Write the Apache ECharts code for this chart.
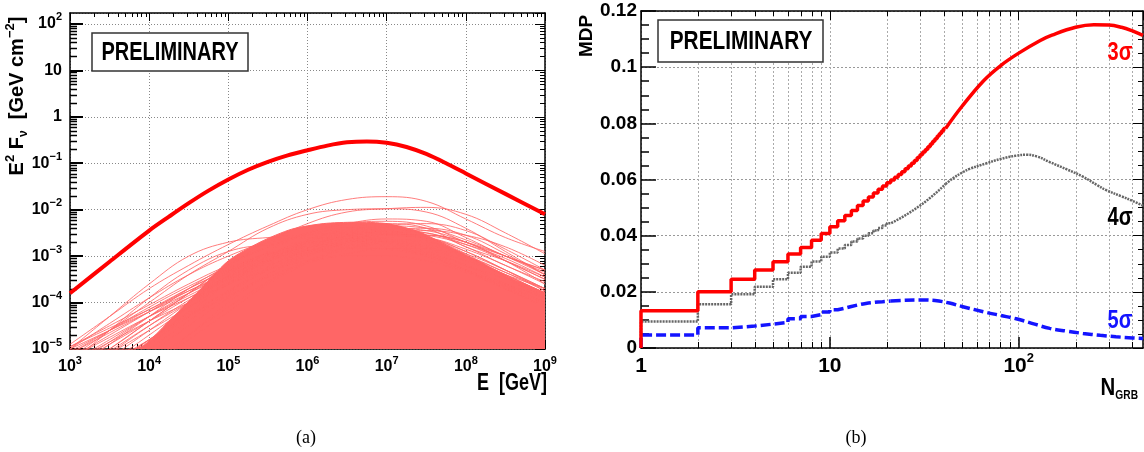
<!DOCTYPE html>
<html><head><meta charset="utf-8">
<script src="https://cdn.jsdelivr.net/npm/echarts@6/dist/echarts.min.js"></script>
<style>html,body{margin:0;padding:0;background:#fff}#c{width:1144px;height:452px}</style>
</head><body><div id="c"></div>
<script>
// ---------- Panel (a): E^2 F_nu spectra ----------
const energyGeV = [1e3, 3.16e3, 1e4, 3.16e4, 1e5, 3.16e5, 1e6, 3.16e6, 1e7, 3.16e7, 1e8, 3.16e8, 1e9];
// total (thick red) spectrum: energies and log10 flux
const totalEnergyGeV = [1e3, 3.16e3, 1e4, 1.78e4, 3.16e4, 5.62e4, 1e5, 1.78e5, 3.16e5, 5.62e5, 1e6, 1.78e6, 3.16e6, 5.62e6, 1e7, 1.78e7, 3.16e7, 5.62e7, 1e8, 3.16e8, 1e9];
const totalFluxLog = [-3.8, -3.12, -2.45, -2.15, -1.86, -1.59, -1.35, -1.14, -0.97, -0.83, -0.72, -0.62, -0.55, -0.53, -0.56, -0.65, -0.8, -1.0, -1.22, -1.66, -2.1];
// log10 of individual GRB spectra (visible curves) at energyGeV
const grbFluxLog = [
  [-4.9, -4.3, -3.7, -3.2, -2.75, -2.35, -2.0, -1.78, -1.72, -1.82, -2.2, -2.6, -2.9],
  [-5.2, -4.6, -4.0, -3.4, -2.9, -2.4, -2.1, -2.0, -1.98, -2.05, -2.4, -2.9, -3.4],
  [-5.5, -5.0, -4.4, -3.8, -3.2, -2.7, -2.3, -2.05, -1.98, -1.95, -2.1, -2.5, -2.95],
  [-5.6, -5.0, -4.4, -3.8, -3.2, -2.8, -2.5, -2.3, -2.2, -2.25, -2.6, -3.0, -3.3],
  [-5.0, -4.3, -3.6, -3.0, -2.7, -2.6, -2.55, -2.5, -2.5, -2.6, -2.9, -3.3, -3.7],
  [-5.3, -4.6, -3.9, -3.3, -2.9, -2.75, -2.7, -2.65, -2.7, -2.85, -3.1, -3.4, -3.7],
  [-5.0, -4.45, -3.9, -3.4, -3.0, -2.7, -2.6, -2.6, -2.7, -2.9, -3.2, -3.6, -4.0],
  [-4.95, -4.5, -4.05, -3.6, -3.2, -2.9, -2.7, -2.6, -2.6, -2.7, -3.0, -3.4, -3.8],
  [-5.1, -4.6, -4.1, -3.65, -3.25, -2.95, -2.8, -2.75, -2.8, -3.0, -3.3, -3.6, -3.9],
  [-5.8, -5.2, -4.6, -4.0, -3.4, -2.9, -2.5, -2.3, -2.25, -2.35, -2.7, -3.0, -3.3],
  [-6.0, -5.4, -4.8, -4.2, -3.6, -3.1, -2.7, -2.4, -2.3, -2.4, -2.8, -3.1, -3.45],
  [-6.2, -5.6, -5.0, -4.4, -3.8, -3.3, -2.9, -2.6, -2.45, -2.5, -2.8, -3.2, -3.55],
  [-5.5, -4.9, -4.3, -3.7, -3.2, -2.8, -2.55, -2.4, -2.45, -2.65, -3.0, -3.4, -3.8],
  [-5.3, -4.8, -4.3, -3.85, -3.45, -3.1, -2.85, -2.7, -2.65, -2.7, -2.95, -3.3, -3.7],
  [-5.6, -5.1, -4.6, -4.1, -3.6, -3.2, -2.9, -2.75, -2.7, -2.8, -3.05, -3.4, -3.8],
  [-6.3, -5.7, -5.1, -4.5, -3.9, -3.4, -3.0, -2.7, -2.55, -2.6, -2.9, -3.3, -3.75],
  [-5.9, -5.3, -4.7, -4.1, -3.55, -3.1, -2.75, -2.55, -2.5, -2.6, -2.95, -3.45, -3.9],
  [-5.4, -4.85, -4.3, -3.8, -3.35, -3.0, -2.8, -2.7, -2.75, -2.95, -3.3, -3.7, -4.1],
  [-6.5, -5.9, -5.3, -4.7, -4.1, -3.55, -3.1, -2.8, -2.6, -2.55, -2.7, -3.1, -3.6],
  [-6.6, -6.0, -5.4, -4.8, -4.2, -3.6, -3.15, -2.85, -2.7, -2.75, -3.0, -3.35, -3.7],
  [-5.2, -4.7, -4.2, -3.7, -3.3, -2.95, -2.7, -2.5, -2.4, -2.45, -2.7, -3.1, -3.5],
  [-5.7, -5.1, -4.5, -3.95, -3.45, -3.0, -2.65, -2.45, -2.35, -2.4, -2.65, -3.0, -3.4],
  [-6.1, -5.5, -4.9, -4.3, -3.75, -3.25, -2.85, -2.55, -2.35, -2.3, -2.45, -2.85, -3.3],
  [-5.0, -4.6, -4.2, -3.8, -3.4, -3.1, -2.9, -2.8, -2.85, -3.0, -3.3, -3.65, -4.0],
  [-5.2, -4.75, -4.3, -3.9, -3.5, -3.15, -2.95, -2.85, -2.85, -2.95, -3.2, -3.5, -3.85],
  [-4.95, -4.55, -4.15, -3.75, -3.4, -3.15, -3.0, -2.95, -3.0, -3.15, -3.45, -3.8, -4.2],
  [-5.1, -4.65, -4.2, -3.75, -3.35, -3.0, -2.75, -2.6, -2.55, -2.6, -2.85, -3.2, -3.6],
  [-5.4, -4.9, -4.4, -3.9, -3.45, -3.05, -2.75, -2.55, -2.45, -2.5, -2.75, -3.1, -3.5],
  [-6.8, -6.1, -5.4, -4.7, -4.0, -3.4, -2.95, -2.65, -2.45, -2.4, -2.55, -2.95, -3.4],
  [-5.6, -5.05, -4.5, -4.0, -3.5, -3.1, -2.8, -2.6, -2.5, -2.45, -2.55, -2.8, -3.2],
  [-6.0, -5.4, -4.8, -4.25, -3.75, -3.3, -2.95, -2.7, -2.55, -2.55, -2.7, -3.0, -3.35],
  [-5.3, -4.85, -4.4, -4.0, -3.6, -3.3, -3.1, -3.0, -3.0, -3.1, -3.35, -3.7, -4.05],
  [-5.8, -5.3, -4.8, -4.3, -3.85, -3.45, -3.15, -2.95, -2.85, -2.85, -3.0, -3.35, -3.75],
  [-5.05, -4.6, -4.15, -3.7, -3.3, -2.95, -2.7, -2.55, -2.5, -2.55, -2.75, -3.05, -3.45]
];
// upper edge of the densely filled band of many GRB spectra
const denseEnergyGeV = [1e3, 3.16e3, 7.94e3, 1.78e4, 3.98e4, 1e5, 2.51e5, 6.31e5, 1.58e6, 3.98e6, 1e7, 2.51e7, 6.31e7, 1.58e8, 3.98e8, 1e9];
const denseEnvelopeLog = [-5.05, -5.05, -4.95, -4.4, -3.8, -3.1, -2.7, -2.42, -2.3, -2.27, -2.3, -2.47, -2.8, -3.15, -3.5, -3.78];

// ---------- Panel (b): MDP vs N_GRB ----------
// histogram bin values for N = 1, 2, 3, ...
const mdp3Step = [0.0133, 0.0200, 0.0245, 0.0278, 0.0307, 0.0335, 0.0358, 0.0384, 0.0408, 0.0432,
  0.0453, 0.0472, 0.0490, 0.0507, 0.0523, 0.0538, 0.0552, 0.0565, 0.0577, 0.0588,
  0.0598, 0.0608, 0.0618, 0.0628, 0.0638, 0.0648, 0.0658, 0.0668, 0.0678, 0.0688,
  0.0698, 0.0707, 0.0717, 0.0726, 0.0736, 0.0745, 0.0755, 0.0764, 0.0773, 0.0782];
const mdp4Step = [0.0094, 0.0156, 0.0191, 0.0218, 0.0245, 0.0268, 0.0289, 0.0308, 0.0325, 0.0340,
  0.0354, 0.0367, 0.0379, 0.0390, 0.0400, 0.0409, 0.0418, 0.0427, 0.0436, 0.0444,
  0.0451, 0.0458, 0.0465, 0.0472, 0.0479, 0.0486, 0.0493, 0.0500, 0.0507, 0.0514,
  0.0521, 0.0528, 0.0535, 0.0542, 0.0549, 0.0556, 0.0563, 0.0570, 0.0577, 0.0584];
const mdp5Step = [0.0046, 0.0072, 0.0078, 0.0085, 0.0091, 0.0104, 0.0112, 0.0119, 0.0128, 0.0136,
  0.0142, 0.0148, 0.0153, 0.0157, 0.0160, 0.0162, 0.0164, 0.0165, 0.0166, 0.0167];
// smooth continuation at larger N
const nTail3 = [41, 50, 65, 80, 100, 130, 150, 200, 250, 300, 350, 400, 455];
const mdp3Tail = [0.0782, 0.0860, 0.0951, 0.1005, 0.1050, 0.1095, 0.1114, 0.1142, 0.1151, 0.1150, 0.1142, 0.1129, 0.1113];
const nTail4 = [41, 45, 50, 55, 67, 80, 97, 110, 125, 146, 180, 219, 260, 291, 350, 400, 455];
const mdp4Tail = [0.0584, 0.0605, 0.0624, 0.0638, 0.0657, 0.0673, 0.0685, 0.0688, 0.0682, 0.0662, 0.0636, 0.0610, 0.0580, 0.0562, 0.0540, 0.0524, 0.0507];
const nTail5 = [21, 25, 30, 36, 43, 50, 65, 80, 97, 120, 146, 180, 219, 270, 327, 400, 455];
const mdp5Tail = [0.0167, 0.0170, 0.0171, 0.0169, 0.0160, 0.0148, 0.0129, 0.0116, 0.0104, 0.0086, 0.0070, 0.0060, 0.0052, 0.0045, 0.0040, 0.0036, 0.0034];

// ---------- helpers ----------
const FONT = "'Liberation Sans', Arial, Helvetica, sans-serif";
const NARROW = "'Liberation Sans Narrow', 'Liberation Sans', Arial, sans-serif";
const PINK = '#ff6666';
const pw = v => Math.pow(10, v);

function richSup(fs, ss, lh, slh, fam) {
  return {
    b: { fontSize: fs, fontWeight: 'bold', fontFamily: fam, lineHeight: lh, color: '#000' },
    s: { fontSize: ss, fontWeight: 'bold', fontFamily: fam, lineHeight: slh, verticalAlign: 'top', color: '#000' }
  };
}
function pow10Label(v, plain) {
  const l = Math.log10(v), e = Math.round(l);
  if (Math.abs(l - e) > 1e-6) return '';
  if (plain && e === 0) return '{b|1}';
  if (plain && e === 1) return '{b|10}';
  return '{b|10}{s|' + (e < 0 ? '\u2212' + (-e) : e) + '}';
}
function logMinors(d0, d1, maxV) {
  const out = [];
  for (let d = d0; d <= d1; d++) for (let m = 2; m <= 9; m++) { const v = m * Math.pow(10, d); if (v < maxV) out.push(v); }
  return out;
}
function tickSeries(xi, yi, data, dim, lenA, lenB, grid) {
  return {
    type: 'custom', xAxisIndex: xi, yAxisIndex: yi, silent: true, z: 1,
    data: data,
    renderItem: function (params, api) {
      const cs = params.coordSys, ch = [];
      const p = api.coord([api.value(0), api.value(1)]);
      const st = { stroke: '#000', lineWidth: 1 };
      if (dim === 'x') {
        const x = Math.round(p[0]) + 0.5;
        if (grid) ch.push({ type: 'line', shape: { x1: x, y1: cs.y, x2: x, y2: cs.y + cs.height }, style: { stroke: '#aaa', lineWidth: 1, lineDash: [2, 2] } });
        ch.push({ type: 'line', shape: { x1: x, y1: cs.y + cs.height, x2: x, y2: cs.y + cs.height - lenA }, style: st });
        ch.push({ type: 'line', shape: { x1: x, y1: cs.y, x2: x, y2: cs.y + lenB }, style: st });
      } else {
        const y = Math.round(p[1]) + 0.5;
        ch.push({ type: 'line', shape: { x1: cs.x, y1: y, x2: cs.x + lenA, y2: y }, style: { stroke: '#000', lineWidth: 1.5 } });
        ch.push({ type: 'line', shape: { x1: cs.x + cs.width, y1: y, x2: cs.x + cs.width - lenB, y2: y }, style: st });
      }
      return { type: 'group', children: ch };
    }
  };
}

const series = [];
// dense band
series.push({
  type: 'line', xAxisIndex: 0, yAxisIndex: 0, silent: true, showSymbol: false, smooth: 0.25, z: 2,
  data: denseEnergyGeV.map((e, i) => [e, pw(denseEnvelopeLog[i])]),
  lineStyle: { width: 1, color: PINK }, areaStyle: { color: PINK, opacity: 1, origin: 'start' }
});
grbFluxLog.forEach(arr => series.push({
  type: 'line', xAxisIndex: 0, yAxisIndex: 0, silent: true, showSymbol: false, smooth: 0.4, z: 2,
  data: energyGeV.map((e, i) => [e, pw(arr[i])]),
  lineStyle: { width: 1, color: PINK, opacity: 0.85 }
}));
series.push({
  type: 'line', xAxisIndex: 0, yAxisIndex: 0, silent: true, showSymbol: false, smooth: 0.3, z: 4,
  data: totalEnergyGeV.map((e, i) => [e, pw(totalFluxLog[i])]),
  lineStyle: { width: 4, color: '#ff0000' }
});
// minor ticks panel (a)
series.push(tickSeries(0, 0, logMinors(3, 8, 1e9).map(v => [v, 1]), 'x', 5, 4, false));
series.push(tickSeries(0, 0, logMinors(-5, 1, 172).map(v => [1e5, v]), 'y', 7, 5, false));
// minor ticks + minor grid panel (b)
series.push(tickSeries(2, 2, logMinors(0, 2, 455).map(v => [v, 0.06]), 'x', 6, 5, true));

const stepData = vals => [[1, 0]].concat(vals.map((v, i) => [i + 2, v]));
function mdpSeries(stepVals, tN, tV, color, width, type) {
  series.push({ type: 'line', xAxisIndex: 2, yAxisIndex: 2, silent: true, showSymbol: false, step: 'start', z: 3,
    data: stepData(stepVals), lineStyle: { color, width, type } });
  series.push({ type: 'line', xAxisIndex: 2, yAxisIndex: 2, silent: true, showSymbol: false, smooth: 0.4, z: 3,
    data: tN.map((n, i) => [n, tV[i]]), lineStyle: { color, width, type } });
}
mdpSeries(mdp4Step, nTail4, mdp4Tail, '#666666', 2.5, [2, 1]);
mdpSeries(mdp5Step, nTail5, mdp5Tail, '#1414ff', 3.5, [10, 4]);
mdpSeries(mdp3Step, nTail3, mdp3Tail, '#ff0000', 3.5, 'solid');

const axLine = { show: true, onZero: false, lineStyle: { color: '#000', width: 1.5 } };
const dotted = { show: true, lineStyle: { color: '#888', width: 1, type: [1, 2] } };
const richL = richSup(16, 11, 24, 11, NARROW);
const richR = richSup(21, 13, 28, 13, NARROW);

const option = {
  animation: false,
  grid: [
    { left: 70, top: 13, width: 475, height: 336, containLabel: false, outerBoundsMode: 'none' },
    { left: 641, top: 11, width: 502, height: 337, containLabel: false, outerBoundsMode: 'none' }
  ],
  xAxis: [
    { gridIndex: 0, type: 'log', logBase: 10, min: 1e3, max: 1e9, position: 'bottom', axisLine: axLine,
      axisTick: { show: true, inside: true, length: 9, lineStyle: { color: '#000' } },
      axisLabel: { margin: 6, formatter: v => pow10Label(v, false), rich: richL }, splitLine: dotted },
    { gridIndex: 0, type: 'log', logBase: 10, min: 1e3, max: 1e9, position: 'top', axisLine: axLine,
      axisTick: { show: true, inside: true, length: 8, lineStyle: { color: '#000' } },
      axisLabel: { show: false }, splitLine: { show: false } },
    { gridIndex: 1, type: 'log', logBase: 10, min: 1, max: 455, position: 'bottom', axisLine: axLine,
      axisTick: { show: true, inside: true, length: 11, lineStyle: { color: '#000', width: 1.5 } },
      axisLabel: { margin: 4, formatter: v => pow10Label(v, true), rich: richR, showMaxLabel: false },
      splitLine: { show: true, lineStyle: { color: '#aaa', width: 1, type: [2, 2] } } },
    { gridIndex: 1, type: 'log', logBase: 10, min: 1, max: 455, position: 'top', axisLine: axLine,
      axisTick: { show: true, inside: true, length: 9, lineStyle: { color: '#000' } },
      axisLabel: { show: false }, splitLine: { show: false } }
  ],
  yAxis: [
    { gridIndex: 0, type: 'log', logBase: 10, min: 1e-5, max: 172, position: 'left', axisLine: axLine,
      axisTick: { show: true, inside: true, length: 13, lineStyle: { color: '#000', width: 2 } },
      axisLabel: { margin: 8, formatter: v => pow10Label(v, true), rich: richL, showMaxLabel: false }, splitLine: dotted },
    { gridIndex: 0, type: 'log', logBase: 10, min: 1e-5, max: 172, position: 'right', axisLine: axLine,
      axisTick: { show: true, inside: true, length: 10, lineStyle: { color: '#000' } },
      axisLabel: { show: false }, splitLine: { show: false } },
    { gridIndex: 1, type: 'value', min: 0, max: 0.12, interval: 0.02, position: 'left', axisLine: axLine,
      axisTick: { show: true, inside: true, length: 15, lineStyle: { color: '#000', width: 1.5 } },
      minorTick: { show: true, splitNumber: 4, length: 8, lineStyle: { color: '#000', width: 1.5 } },
      axisLabel: { margin: 4, fontSize: 19, fontWeight: 'bold', fontFamily: NARROW, color: '#000',
        formatter: v => v === 0 ? '0' : String(+v.toFixed(2)) },
      splitLine: { show: true, lineStyle: { color: '#999', width: 1, type: [2, 2] } } },
    { gridIndex: 1, type: 'value', min: 0, max: 0.12, interval: 0.02, position: 'right', axisLine: axLine,
      axisTick: { show: true, inside: true, length: 10, lineStyle: { color: '#000' } },
      minorTick: { show: true, splitNumber: 4, length: 5, lineStyle: { color: '#000' } },
      axisLabel: { show: false }, splitLine: { show: false } }
  ],
  series: series,
  graphic: [
    { type: 'text', x: 17, y: 96, rotation: Math.PI / 2, z: 100,
      style: { text: '{t|E}{p|2}{t| F}{u|\u03bd}{t|  [GeV cm}{p|\u22122}{t|]}', align: 'center', verticalAlign: 'middle',
        rich: { t: { fontSize: 20, fontWeight: 'bold', fontFamily: FONT, lineHeight: 26, fill: '#000' },
                p: { fontSize: 13, fontWeight: 'bold', fontFamily: FONT, lineHeight: 13, verticalAlign: 'top', fill: '#000' },
                u: { fontSize: 12, fontWeight: 'bold', fontFamily: FONT, lineHeight: 12, verticalAlign: 'bottom', fill: '#000' } } } },
    { type: 'text', x: 547, y: 383, scaleX: 0.75, z: 100,
      style: { text: 'E  [GeV]', align: 'right', verticalAlign: 'middle', font: 'bold 24px ' + FONT, fill: '#000' } },
    { type: 'rect', shape: { x: 92, y: 33, width: 156, height: 38 }, z: 100,
      style: { fill: '#fff', stroke: '#333', lineWidth: 1.5 } },
    { type: 'text', x: 170, y: 53, scaleX: 0.8, z: 101,
      style: { text: 'PRELIMINARY', align: 'center', verticalAlign: 'middle', font: 'bold 25px ' + FONT, fill: '#000' } },
    { type: 'rect', shape: { x: 658, y: 20, width: 165, height: 42 }, z: 100,
      style: { fill: '#fff', stroke: '#333', lineWidth: 1.5 } },
    { type: 'text', x: 741, y: 42, scaleX: 0.8, z: 101,
      style: { text: 'PRELIMINARY', align: 'center', verticalAlign: 'middle', font: 'bold 26px ' + FONT, fill: '#000' } },
    { type: 'text', x: 587, y: 36, rotation: Math.PI / 2, z: 100,
      style: { text: 'MDP', align: 'center', verticalAlign: 'middle', font: 'bold 19px ' + FONT, fill: '#000' } },
    { type: 'text', x: 1138, y: 388, scaleX: 0.85, z: 100,
      style: { text: '{n|N}{g|GRB}', align: 'right', verticalAlign: 'middle',
        rich: { n: { fontSize: 24, fontWeight: 'bold', fontFamily: FONT, lineHeight: 28, fill: '#000' },
                g: { fontSize: 12, fontWeight: 'bold', fontFamily: FONT, lineHeight: 12, verticalAlign: 'bottom', fill: '#000' } } } },
    { type: 'text', x: 1120, y: 53, scaleX: 0.8, z: 100,
      style: { text: '3\u03c3', align: 'center', verticalAlign: 'middle', font: 'bold 25px ' + FONT, fill: '#ff0000' } },
    { type: 'text', x: 1120, y: 218, scaleX: 0.8, z: 100,
      style: { text: '4\u03c3', align: 'center', verticalAlign: 'middle', font: 'bold 25px ' + FONT, fill: '#000' } },
    { type: 'text', x: 1120, y: 321, scaleX: 0.8, z: 100,
      style: { text: '5\u03c3', align: 'center', verticalAlign: 'middle', font: 'bold 25px ' + FONT, fill: '#1414ff' } },
    { type: 'text', x: 306, y: 438, z: 100,
      style: { text: '(a)', align: 'center', verticalAlign: 'middle', font: '18px "Liberation Serif", "Times New Roman", serif', fill: '#000' } },
    { type: 'text', x: 856, y: 438, z: 100,
      style: { text: '(b)', align: 'center', verticalAlign: 'middle', font: '18px "Liberation Serif", "Times New Roman", serif', fill: '#000' } }
  ]
};
const chart = echarts.init(document.getElementById('c'), null, { renderer: 'canvas' });
chart.setOption(option);
</script></body></html>
